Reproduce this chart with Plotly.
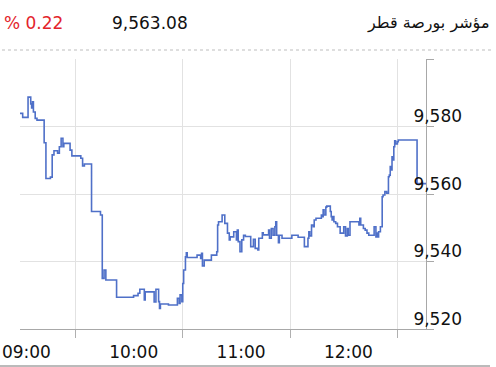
import plotly.graph_objects as go

# ---- data ----
TIMES = [
    "09:29:00", "09:30:30", "09:33:30", "09:35:00", "09:35:30", "09:36:00", "09:36:30", "09:37:30",
    "09:38:30", "09:42:30", "09:43:30", "09:46:00", "09:47:00", "09:48:00", "09:50:00", "09:51:00",
    "09:52:00", "09:53:00", "09:53:30", "09:57:00", "09:58:00", "10:03:00", "10:04:00", "10:05:00",
    "10:09:00", "10:14:00", "10:15:00", "10:16:00", "10:17:00", "10:23:00", "10:32:30", "10:35:00",
    "10:36:00", "10:38:30", "10:39:00", "10:44:00", "10:45:00", "10:46:30", "10:47:00", "10:47:30",
    "10:52:00", "10:57:00", "10:58:00", "10:58:30", "10:59:30", "11:00:00", "11:00:30", "11:01:30",
    "11:02:00", "11:02:30", "11:08:00", "11:10:00", "11:10:30", "11:11:00", "11:12:00", "11:16:00",
    "11:19:00", "11:19:30", "11:20:00", "11:22:00", "11:23:30", "11:25:00", "11:26:00", "11:26:30",
    "11:28:30", "11:30:00", "11:30:30", "11:31:00", "11:32:00", "11:33:00", "11:34:00", "11:35:00",
    "11:38:00", "11:39:30", "11:40:30", "11:42:00", "11:42:30", "11:44:30", "11:45:00", "11:48:00",
    "11:48:30", "11:49:30", "11:50:30", "11:51:30", "11:52:00", "11:52:30", "11:53:30", "11:54:00",
    "11:55:30", "12:01:00", "12:04:30", "12:08:00", "12:10:00", "12:10:30", "12:11:00", "12:12:00",
    "12:13:00", "12:13:30", "12:14:30", "12:17:30", "12:18:00", "12:18:30", "12:19:00", "12:20:00",
    "12:20:30", "12:22:30", "12:23:00", "12:23:30", "12:24:00", "12:24:30", "12:25:30", "12:26:30",
    "12:28:00", "12:30:00", "12:31:00", "12:32:00", "12:32:30", "12:33:30", "12:38:30", "12:39:00",
    "12:39:30", "12:41:00", "12:42:00", "12:43:00", "12:44:00", "12:47:00", "12:48:00", "12:48:30",
    "12:49:00", "12:49:30", "12:50:30", "12:51:30", "12:52:00", "12:53:00", "12:54:00", "12:55:00",
    "12:55:30", "12:56:00", "12:56:30", "12:57:00", "12:57:30", "12:58:00", "12:58:30", "12:59:00",
    "13:00:00", "13:00:30", "13:11:00", "13:16:00",
]
VALUES = [
    9583.9, 9582.7, 9588.7, 9586.7, 9585.5, 9587.3, 9584.3, 9582.4,
    9581.9, 9575.2, 9564.6, 9565.0, 9571.6, 9572.8, 9572.1, 9574.0,
    9576.5, 9574.0, 9575.0, 9573.0, 9571.3, 9570.6, 9568.3, 9568.9,
    9554.8, 9553.8, 9535.0, 9537.5, 9534.5, 9529.4, 9529.9, 9530.6,
    9531.8, 9528.6, 9531.0, 9528.0, 9531.8, 9528.1, 9526.1, 9527.4,
    9527.1, 9529.1, 9527.6, 9530.1, 9528.1, 9533.5, 9537.5, 9541.4,
    9542.6, 9541.2, 9541.9, 9540.9, 9542.4, 9538.7, 9540.4, 9541.9,
    9542.9, 9550.8, 9551.8, 9553.8, 9551.3, 9548.4, 9546.4, 9547.3,
    9548.8, 9546.4, 9549.3, 9545.9, 9542.9, 9546.4, 9547.8, 9547.4,
    9544.4, 9546.6, 9543.9, 9543.4, 9546.9, 9548.5, 9547.9, 9549.3,
    9546.9, 9549.8, 9547.8, 9550.3, 9551.8, 9547.8, 9545.6, 9547.8,
    9546.9, 9547.8, 9547.2, 9544.4, 9546.9, 9548.8, 9547.6, 9550.8,
    9550.3, 9552.3, 9552.8, 9553.8, 9553.3, 9555.3, 9553.8, 9556.1,
    9556.4, 9554.8, 9553.3, 9552.3, 9553.3, 9551.8, 9551.3, 9550.3,
    9548.4, 9550.3, 9547.6, 9549.8, 9547.8, 9551.8, 9550.8, 9552.8,
    9550.8, 9549.8, 9549.3, 9548.4, 9547.8, 9550.3, 9547.3, 9548.4,
    9547.3, 9548.8, 9550.3, 9559.2, 9559.7, 9560.7, 9560.2, 9565.1,
    9565.6, 9568.1, 9567.1, 9571.0, 9570.1, 9574.0, 9575.8, 9574.8,
    9575.5, 9576.0, 9563.08, 9563.08,
]

X_RANGE = ["09:29:00", "13:16:00"]
X_TICK_TIMES = ["10:00:00", "11:00:00", "12:00:00", "13:00:00"]
X_TICK_LABELS = ["09:00", "10:00", "11:00", "12:00"]
Y_RANGE = [9520, 9600]
Y_TICKS = [9520, 9540, 9560, 9580, 9600]
Y_TICK_LABELS = ["9,520", "9,540", "9,560", "9,580", ""]

TITLE = "مؤشر بورصة قطر"
LAST_VALUE = "9,563.08"
CHANGE = "% 0.22"

DAY = "2024-01-01 "

fig = go.Figure()
fig.add_trace(go.Scatter(
    x=[DAY + t for t in TIMES], y=VALUES,
    mode="lines", line=dict(color="#4f70c8", width=1.6, shape="hv"),
    hoverinfo="skip", cliponaxis=False,
))

FONT = "DejaVu Sans"
fig.update_layout(
    width=496, height=367,
    margin=dict(l=20, r=70, t=59, b=38, autoexpand=False),
    paper_bgcolor="white", plot_bgcolor="white",
    showlegend=False,
    font=dict(family=FONT, size=17, color="#111"),
    xaxis=dict(
        type="date", automargin=False,
        range=[DAY + X_RANGE[0], DAY + X_RANGE[1]],
        tickvals=[DAY + t for t in X_TICK_TIMES],
        ticktext=X_TICK_LABELS,
        ticks="outside", ticklen=8, tickcolor="#b0b0b0", tickwidth=1,
        ticklabelshift=-49,
        showgrid=True, gridcolor="#e2e2e2", gridwidth=1,
        showline=True, linecolor="#a8a8a8", linewidth=1,
        zeroline=False,
        tickfont=dict(family=FONT, size=17, color="#111"),
    ),
    yaxis=dict(
        side="right", automargin=False,
        range=Y_RANGE,
        tickvals=Y_TICKS,
        ticktext=Y_TICK_LABELS,
        ticks="outside", ticklen=7, tickcolor="#a8a8a8", tickwidth=1,
        ticklabelshift=-10, ticklabelstandoff=-24,
        showgrid=True, gridcolor="#e2e2e2", gridwidth=1,
        showline=True, linecolor="#a8a8a8", linewidth=1,
        zeroline=False,
        tickfont=dict(family=FONT, size=17, color="#111"),
    ),
)

def px_x(p):
    return (p - 20) / 406.0

def px_y(p):
    return (329 - p) / 270.0

fig.add_annotation(text=CHANGE, xref="paper", yref="paper", x=px_x(2), y=px_y(23),
                   xanchor="left", yanchor="middle", showarrow=False,
                   font=dict(family=FONT, size=17, color="#e3242b"))
fig.add_annotation(text=LAST_VALUE, xref="paper", yref="paper", x=px_x(110), y=px_y(23),
                   xanchor="left", yanchor="middle", showarrow=False,
                   font=dict(family=FONT, size=17, color="#111"))
fig.add_annotation(text=TITLE, xref="paper", yref="paper", x=px_x(491), y=px_y(23),
                   xanchor="right", yanchor="middle", showarrow=False,
                   font=dict(family=FONT, size=16, color="#111"))

fig.add_shape(type="line", xref="paper", yref="paper",
              x0=px_x(2), x1=px_x(491), y0=px_y(50), y1=px_y(50),
              line=dict(color="#bdbdbd", width=1, dash="dot"))
fig.add_shape(type="line", xref="paper", yref="paper",
              x0=px_x(0), x1=px_x(490), y0=px_y(366), y1=px_y(366),
              line=dict(color="#777777", width=1))

fig.write_html("out.html", config={"displayModeBar": False})
